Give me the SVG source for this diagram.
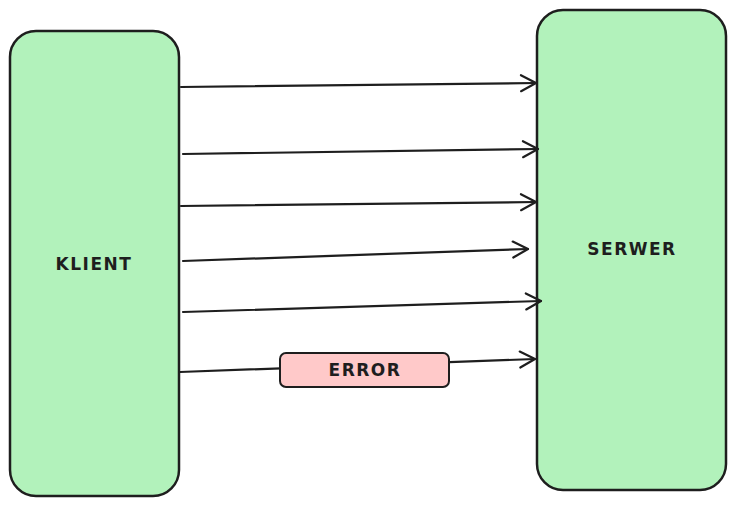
<svg xmlns="http://www.w3.org/2000/svg" width="736" height="506" viewBox="0 0 736 506">
<style>
.node{fill:#b2f2bb;stroke:#1e1e1e;stroke-width:2.5}
.lbl{font-family:"DejaVu Sans",sans-serif;font-size:17px;font-weight:600;fill:#1e1e1e;text-anchor:middle;letter-spacing:1.5px}
.edge{fill:none;stroke:#1e1e1e;stroke-width:2.2;stroke-linecap:round;stroke-linejoin:round}
.err{fill:#ffc9c9;stroke:#1e1e1e;stroke-width:2}
</style>
<defs>
<marker id="ah" markerWidth="20" markerHeight="20" refX="17" refY="10" orient="auto" markerUnits="userSpaceOnUse">
<path d="M2,2 L17,10 L2,18" fill="none" stroke="#1e1e1e" stroke-width="2.2" stroke-linecap="round" stroke-linejoin="round"/>
</marker>
</defs>
<g id="klient">
<rect class="node" x="10" y="31" width="169" height="465" rx="26"/>
<text class="lbl" x="94" y="270">KLIENT</text>
</g>
<g id="serwer">
<rect class="node" x="537" y="10" width="189" height="480" rx="26"/>
<text class="lbl" x="632" y="255">SERWER</text>
</g>
<g id="connectors">
<line class="edge" x1="181" y1="87" x2="536" y2="83" marker-end="url(#ah)"/>
<line class="edge" x1="183" y1="154" x2="538" y2="149" marker-end="url(#ah)"/>
<line class="edge" x1="181" y1="206" x2="536" y2="202" marker-end="url(#ah)"/>
<line class="edge" x1="183" y1="261" x2="528" y2="249" marker-end="url(#ah)"/>
<line class="edge" x1="183" y1="312" x2="541" y2="301" marker-end="url(#ah)"/>
<line class="edge" x1="180" y1="372" x2="535" y2="359" marker-end="url(#ah)"/>
</g>
<g id="error">
<rect class="err" x="280" y="353" width="169" height="34" rx="6"/>
<text class="lbl" x="365" y="376">ERROR</text>
</g>
</svg>
